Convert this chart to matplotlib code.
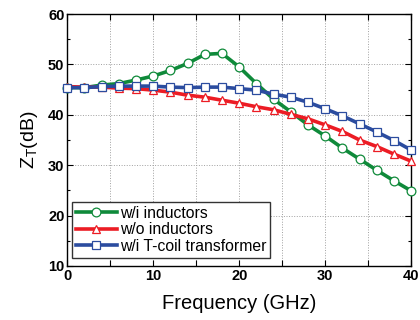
import matplotlib
matplotlib.use('Agg')
import matplotlib.pyplot as plt
from matplotlib.ticker import MultipleLocator, FuncFormatter

plt.rcParams['font.family'] = ['Liberation Sans', 'DejaVu Sans']
plt.rcParams['mathtext.default'] = 'regular'

freq = [0, 2, 4, 6, 8, 10, 12, 14, 16, 18, 20, 22, 24, 26, 28, 30, 32, 34, 36, 38, 40]
zt_with_ind = [45.4, 45.4, 45.9, 46.2, 46.9, 47.7, 48.8, 50.2, 52.0, 52.2, 49.5, 46.2,
               43.1, 40.6, 38.0, 35.8, 33.4, 31.2, 29.0, 26.9, 24.9]
zt_without_ind = [45.6, 45.5, 45.5, 45.3, 45.2, 44.9, 44.5, 43.9, 43.5, 42.9, 42.3, 41.6,
                  41.0, 40.1, 39.2, 38.0, 36.7, 35.0, 33.7, 32.2, 30.8]
zt_tcoil = [45.4, 45.4, 45.6, 45.7, 45.7, 45.7, 45.5, 45.4, 45.5, 45.5, 45.2, 44.9,
            44.1, 43.5, 42.5, 41.2, 39.8, 38.2, 36.6, 34.9, 33.0]

labels = ['w/i inductors', 'w/o inductors', 'w/i T-coil transformer']
colors = ['#0f8a3a', '#ec1c24', '#2b4c9f']
markers = ['o', '^', 's']
msizes = [6.3, 6.3, 6.0]

fig = plt.figure(figsize=(4.2, 3.2), dpi=100)
ax = fig.add_axes([0.16, 0.169, 0.819, 0.787])

for ys, lab, c, m, ms in zip([zt_with_ind, zt_without_ind, zt_tcoil], labels, colors, markers, msizes):
    ax.plot(freq, ys, color=c, lw=2.6, marker=m, markersize=ms,
            markerfacecolor='white', markeredgecolor=c, markeredgewidth=0.9,
            label=lab, clip_on=False, zorder=3)

ax.set_xlim(0, 40)
ax.set_ylim(10, 60)
ax.xaxis.set_major_locator(MultipleLocator(5))
ax.xaxis.set_major_formatter(FuncFormatter(lambda v, p: '%d' % v if v % 10 == 0 else ''))
ax.yaxis.set_major_locator(MultipleLocator(10))
ax.yaxis.set_minor_locator(MultipleLocator(5))
ax.tick_params(which='both', direction='in', top=True, right=True, width=0.8)
ax.tick_params(which='major', length=4, labelsize=10.5, pad=2)
ax.tick_params(which='minor', length=2.5)
for t in ax.get_xticklabels() + ax.get_yticklabels():
    t.set_fontweight('bold')
ax.grid(True, which='major', color='#a0a0a0', ls=':', lw=0.7)

for s in ax.spines.values():
    s.set_linewidth(1.0)

ax.set_xlabel('Frequency (GHz)', fontsize=14.5, labelpad=8)
ax.set_ylabel('Z$_T$(dB)', fontsize=14, labelpad=6)

leg = ax.legend(loc='lower left', bbox_to_anchor=(0.005, 0.02), fontsize=11.3,
                handlelength=2.6, handletextpad=0.2, borderpad=0.25,
                labelspacing=0.1, borderaxespad=0.2, fancybox=False,
                framealpha=1, edgecolor='#333333')
leg.get_frame().set_linewidth(1.0)

fig.savefig('out.png', dpi=100)
